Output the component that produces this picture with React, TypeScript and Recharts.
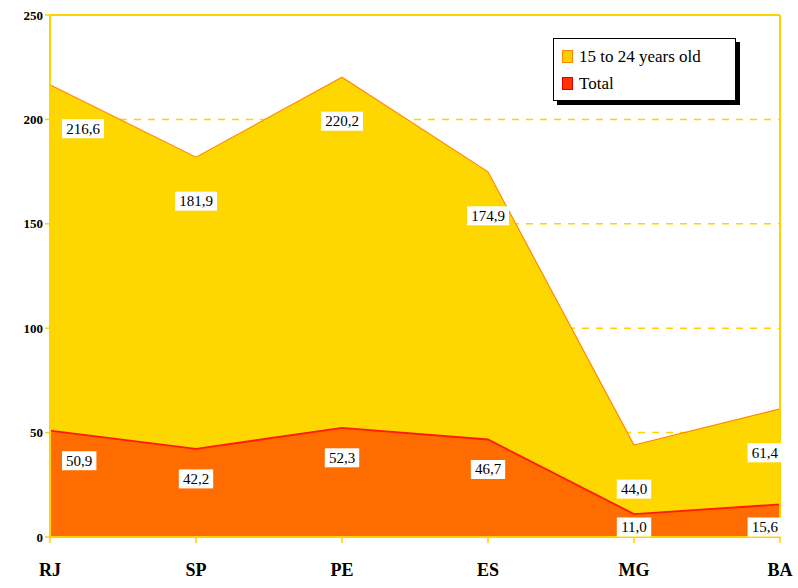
import React from "react";
import {
  AreaChart,
  Area,
  XAxis,
  YAxis,
  CartesianGrid,
  ReferenceLine,
  LabelList,
} from "recharts";

const states = ["RJ", "SP", "PE", "ES", "MG", "BA"];
const youth = [216.6, 181.9, 220.2, 174.9, 44.0, 61.4];
const total = [50.9, 42.2, 52.3, 46.7, 11.0, 15.6];
const yTicks = [0, 50, 100, 150, 200, 250];

const chartData = states.map((s, i) => ({ state: s, youth: youth[i], total: total[i] }));

const FONT = "'Liberation Serif', 'Times New Roman', serif";
const AXIS = "#FFD200";
const PLOT_BOTTOM = 537;

const fmt = (v: number) => v.toFixed(1).replace(".", ",");

function makeLabel(offset: number) {
  return (props: any) => {
    const { x, y, value, index } = props;
    const text = fmt(Number(value));
    const w = text.length * 7.6 + 4;
    const h = 19;
    let cx = x;
    if (index === 0) cx = x + w / 2 + 12;
    if (index === states.length - 1) cx = x - w / 2 + 2;
    const cy = Math.min(y + offset, PLOT_BOTTOM - 10);
    return (
      <g>
        <rect x={cx - w / 2} y={cy - h / 2} width={w} height={h} fill="#fff" />
        <text
          x={cx}
          y={cy + 5}
          textAnchor="middle"
          fontFamily={FONT}
          fontSize={15}
          fill="#000"
        >
          {text}
        </text>
      </g>
    );
  };
}

function ChartLegend() {
  return (
    <div
      style={{
        position: "absolute",
        left: 553,
        top: 38,
        width: 183,
        height: 63,
        border: "1px solid #000",
        background: "#fff",
        boxShadow: "4px 4px 0 #000",
        fontFamily: FONT,
        fontSize: 17,
        color: "#000",
        padding: "4px 0 0 8px",
        boxSizing: "border-box",
        lineHeight: "27px",
      }}
    >
      <div style={{ display: "flex", alignItems: "center" }}>
        <span style={{ width: 9, height: 11, background: "#FFCC00", border: "1px solid #FF8800", marginRight: 6 }} />
        15 to 24 years old
      </div>
      <div style={{ display: "flex", alignItems: "center" }}>
        <span style={{ width: 9, height: 11, background: "#FF3300", border: "1px solid #DD0000", marginRight: 6 }} />
        Total
      </div>
    </div>
  );
}

export default function App() {
  return (
    <div style={{ position: "absolute", left: 0, top: 0, width: 798, height: 588, background: "#fff" }}>
      <AreaChart
        width={798}
        height={588}
        data={chartData}
        margin={{ top: 15, right: 18, bottom: 7, left: 8 }}
      >
        <CartesianGrid vertical={false} stroke={AXIS} strokeDasharray="7 7" strokeWidth={1.5} />
        <XAxis
          dataKey="state"
          axisLine={{ stroke: AXIS, strokeWidth: 2 }}
          tickLine={{ stroke: AXIS, strokeWidth: 1.5 }}
          tickSize={6}
          tickMargin={20}
          height={44}
          tick={{ fontFamily: FONT, fontSize: 18, fontWeight: "bold", fill: "#000" }}
        />
        <YAxis
          domain={[0, 250]}
          ticks={yTicks}
          axisLine={{ stroke: AXIS, strokeWidth: 2 }}
          tickLine={{ stroke: AXIS, strokeWidth: 1.5 }}
          tickSize={5}
          width={42}
          tick={{ fontFamily: FONT, fontSize: 13, fontWeight: "bold", fill: "#000" }}
        />
        <ReferenceLine y={250} stroke={AXIS} strokeWidth={2} />
        <ReferenceLine x="BA" stroke={AXIS} strokeWidth={2} />
        <Area
          type="linear"
          dataKey="youth"
          name="15 to 24 years old"
          stroke="#FF8A00"
          strokeWidth={1.2}
          fill="#FFD700"
          fillOpacity={1}
          isAnimationActive={false}
        >
          <LabelList dataKey="youth" content={makeLabel(44)} />
        </Area>
        <Area
          type="linear"
          dataKey="total"
          name="Total"
          stroke="#FF1A00"
          strokeWidth={1.8}
          fill="#FF6C00"
          fillOpacity={1}
          isAnimationActive={false}
        >
          <LabelList dataKey="total" content={makeLabel(30)} />
        </Area>
      </AreaChart>
      <ChartLegend />
    </div>
  );
}
